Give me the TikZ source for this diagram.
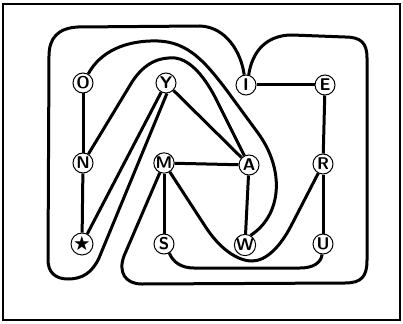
\documentclass[tikz,border=0pt]{standalone}
\usepackage{amssymb}
\tikzset{
  ltr/.style={circle,draw,line width=1pt,fill=white,minimum size=20pt,inner sep=0pt,font=\fontsize{17}{17}\selectfont\sffamily\bfseries},
  trail/.style={line width=3pt},
  frm/.style={line width=1.6pt}
}
\begin{document}
\begin{tikzpicture}[x=1pt,y=-1pt]
  \useasboundingbox (0,0) rectangle (403,323);
  \draw[frm] (3,4) rectangle (400,320);
  \node[ltr] (O) at (83,83) {O}; \node[ltr] (Y) at (166,83) {Y}; \node[ltr] (I) at (246,85) {I}; \node[ltr] (E) at (325,85) {E};
  \node[ltr] (N) at (83,163) {N}; \node[ltr] (M) at (164,163) {M}; \node[ltr] (A) at (249,165) {A}; \node[ltr] (R) at (323,164) {R};
  \node[ltr] (St) at (82,244) {$\bigstar$}; \node[ltr] (S) at (164,244) {S}; \node[ltr] (W) at (245,245) {W}; \node[ltr] (U) at (323,244) {U};
  \draw[trail] (O) -- (N); \draw[trail] (N) -- (St); \draw[trail] (Y) -- (St); \draw[trail] (Y) -- (A);
  \draw[trail] (M) -- (A); \draw[trail] (M) -- (S); \draw[trail] (A) -- (W);
  \draw[trail] (I) -- (E); \draw[trail] (E) -- (R); \draw[trail] (R) -- (U);
  \draw[trail] (Y.-85) -- (99,258) .. controls (92,273) and (82,279) .. (68,279) .. controls (55,279) and (48,272) .. (48,260) -- (49,56) .. controls (49,38) and (58,28) .. (78,27) -- (200,26) .. controls (226,27) and (241,52) .. (I.100);
  \draw[trail] (O.60) .. controls (100,52) and (125,40) .. (158,41) .. controls (188,42) and (205,62) .. (225,88) -- (258,133) .. controls (285,170) and (282,215) .. (W.60);
  \draw[trail] (N) -- (132,82) .. controls (145,62) and (160,57) .. (175,58) .. controls (192,60) and (206,80) .. (215,97) -- (A);
  \draw[trail] (M) -- (124,256) .. controls (118,272) and (125,284) .. (142,284) -- (345,283) .. controls (362,283) and (367,276) .. (367,260) -- (367,58) .. controls (367,43) and (361,37) .. (345,37) -- (292,35) .. controls (266,35) and (252,52) .. (I.75);
  \draw[trail] (M) -- (205,226) .. controls (219,248) and (237,261) .. (252,261) .. controls (266,261) and (280,247) .. (291,226) -- (R);
  \draw[trail] (S.-60) .. controls (173,262) and (181,268) .. (194,268) -- (300,268) .. controls (313,268) and (321,263) .. (U.-95);
\end{tikzpicture}
\end{document}
